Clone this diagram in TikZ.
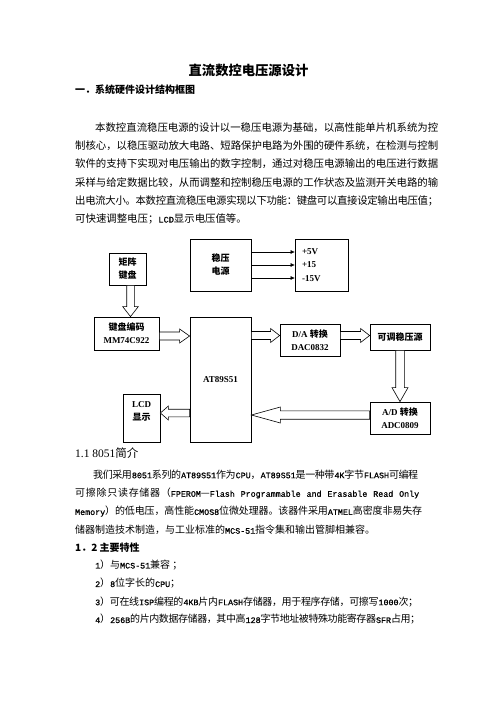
\documentclass[tikz,border=0pt]{standalone}
\usepackage{fontspec}
\setmainfont{Noto Sans CJK SC}
\newfontfamily\tnr{Liberation Serif}
\newfontfamily\enfont[Scale=0.833, FakeBold=1]{Liberation Mono}
\newcommand{\EN}[1]{{\enfont #1}}
\usetikzlibrary{positioning,arrows.meta,calc}

% glue between Chinese characters, so a line can be set to a given width
\XeTeXinterchartokenstate=1
\chardef\hanclass=7
\newcount\hancnt
\hancnt="3000 \loop \XeTeXcharclass\hancnt=\hanclass \advance\hancnt by 1 \ifnum\hancnt<"3040 \repeat
\hancnt="4E00 \loop \XeTeXcharclass\hancnt=\hanclass \advance\hancnt by 1 \ifnum\hancnt<"A000 \repeat
\hancnt="FF00 \loop \XeTeXcharclass\hancnt=\hanclass \advance\hancnt by 1 \ifnum\hancnt<"FF60 \repeat
\XeTeXinterchartoks\hanclass\hanclass={\hskip0pt plus 2pt minus .6pt}
\XeTeXinterchartoks 0 \hanclass={\hskip0pt plus 2pt minus .6pt}
\XeTeXinterchartoks\hanclass 0 ={\hskip0pt plus 2pt minus .6pt}

\newcommand{\jline}[6][txt]{\node[#1, anchor=west] (#2) at (#3,#4) {\makebox[#5pt][s]{#6}};}
\newcommand{\fatarrow}[5]{%
  \coordinate (fa) at ($(#2)!#5pt!(#1)$);
  \draw[hollow] ($(#1)!#3pt!90:(#2)$) -- ($(fa)!#3pt!90:(#2)$) -- ($(fa)!#4pt!90:(#2)$) -- (#2)
    -- ($(fa)!#4pt!-90:(#2)$) -- ($(fa)!#3pt!-90:(#2)$) -- ($(#1)!#3pt!-90:(#2)$) -- cycle;}

\begin{document}
\begin{tikzpicture}[x=1pt, y=-1pt,
  txt/.style={inner sep=0pt, font=\fontsize{10}{12}\selectfont},
  para/.style={inner sep=0pt, font=\fontsize{10.4}{12}\selectfont},
  blk/.style={draw, line width=0.8pt, inner sep=0pt, align=center, font=\bfseries\fontsize{9}{13}\selectfont},
  feed/.style={-{Triangle[length=4pt,width=3.5pt]}, line width=0.6pt},
  hollow/.style={draw, fill=white, line width=0.6pt, line join=miter}
]
  \fill[white] (0,0) rectangle (496,702);
  \useasboundingbox (0,0) rectangle (496,702);

  \node[font=\bfseries\fontsize{13.3}{16}\selectfont] (title) at (248.5,70) {直流数控电压源设计};
  \node[txt, anchor=west, font=\bfseries\fontsize{10}{12}\selectfont] (sec1) at (75,90) {一．系统硬件设计结构框图};

  \jline[para]{b1}{95}{127.5}{343}{本数控直流稳压电源的设计以一稳压电源为基础，以高性能单片机系统为控}
  \jline[para]{b2}{75}{145.8}{363}{制核心，以稳压驱动放大电路、短路保护电路为外围的硬件系统，在检测与控制}
  \jline[para]{b3}{75}{164.1}{363}{软件的支持下实现对电压输出的数字控制，通过对稳压电源输出的电压进行数据}
  \jline[para]{b4}{75}{182.4}{363}{采样与给定数据比较，从而调整和控制稳压电源的工作状态及监测开关电路的输}
  \jline[para]{b5}{75}{200.7}{363}{出电流大小。本数控直流稳压电源实现以下功能：键盘可以直接设定输出电压值；}
  \node[para, anchor=west] (b6) at (75,219) {可快速调整电压；\EN{LCD}显示电压值等。};

  \node[blk, minimum width=37pt, minimum height=32pt] (kbd) at (127.5,269) {矩阵\\键盘};
  \node[blk, minimum width=61pt, minimum height=52pt] (psu) at (220.5,265) {稳压\\电源};
  \node[blk, minimum width=53pt, minimum height=52pt, text width=39pt, align=left,
        font=\fontsize{9}{13.3}\selectfont] (volt) at (321.5,265) {{\tnr\bfseries +5V}\\{\tnr\bfseries +15}\\{\tnr\bfseries -15V}};
  \node[blk, minimum width=65pt, minimum height=33pt] (enc) at (126.5,333.5) {键盘编码\\{\tnr MM74C922}};
  \node[blk, minimum width=61pt, minimum height=125pt, font=\tnr\bfseries\fontsize{9}{13}\selectfont] (mcu) at (220.5,379.5) {AT89S51};
  \node[blk, minimum width=60pt, minimum height=32pt] (dac) at (310,340) {{\tnr D/A} 转换\\{\tnr DAC0832}};
  \node[blk, minimum width=60pt, minimum height=26pt] (reg) at (400,337) {可调稳压源};
  \node[blk, minimum width=60pt, minimum height=32pt] (adc) at (400,418) {{\tnr A/D} 转换\\{\tnr ADC0809}};
  \node[blk, minimum width=37pt, minimum height=48pt] (lcd) at (141.5,418) {{\tnr LCD}\\显示\\\mbox{}};

  \draw[feed] ([yshift=13pt]psu.east) -- ([yshift=13pt]volt.west);
  \draw[feed] (psu.east) -- (volt.west);
  \draw[feed] ([yshift=-13pt]psu.east) -- ([yshift=-13pt]volt.west);

  \coordinate (k1) at ([xshift=3pt]kbd.south);
  \coordinate (k2) at (k1 |- enc.north);
  \fatarrow{k1}{k2}{3.8}{7.8}{10}
  \coordinate (e1) at ([yshift=-2.5pt]enc.east);
  \coordinate (e2) at (e1 -| mcu.west);
  \fatarrow{e1}{e2}{4}{7}{10}
  \coordinate (r0) at ([yshift=1.5pt]reg.west);
  \coordinate (m1) at (mcu.east |- r0);
  \coordinate (d1) at (dac.west |- r0);
  \coordinate (d2) at (dac.east |- r0);
  \fatarrow{m1}{d1}{4}{7}{9}
  \fatarrow{d2}{r0}{4}{7}{9}
  \fatarrow{reg.south}{adc.north}{4.3}{8}{14}
  \coordinate (a1) at ([yshift=3pt]adc.west);
  \coordinate (m2) at (a1 -| mcu.east);
  \fatarrow{a1}{m2}{4.2}{8}{29}
  \coordinate (l1) at ([yshift=5pt]lcd.east);
  \coordinate (m3) at (l1 -| mcu.west);
  \fatarrow{m3}{l1}{3.8}{7}{8}

  \node[txt, anchor=west, font=\fontsize{11.5}{13}\selectfont] (sec11) at (75,453.5) {{\tnr 1.1 8051}简介};
  \jline{c1}{93}{474.5}{325}{我们采用\EN{8051}系列的\EN{AT89S51}作为\EN{CPU}，\EN{AT89S51}是一种带\EN{4K}字节\EN{FLASH}可编程}
  \jline{c2}{75}{493.3}{344}{可擦除只读存储器（\EN{FPEROM}—\EN{Flash Programmable and Erasable Read Only}}
  \jline{c3}{75}{511.5}{347}{\EN{Memory}）的低电压，高性能\EN{CMOS8}位微处理器。该器件采用\EN{ATMEL}高密度非易失存}
  \node[txt, anchor=west] (c4) at (75,530) {储器制造技术制造，与工业标准的\EN{MCS-51}指令集和输出管脚相兼容。};
  \node[txt, anchor=west, font=\bfseries\fontsize{10}{12}\selectfont] (sec12) at (75,547.5) {1．2 主要特性};
  \node[txt, anchor=west] (i1) at (95,565) {\EN{1}）与\EN{MCS-51}兼容 ；};
  \node[txt, anchor=west] (i2) at (95,583.5) {\EN{2}）\EN{8}位字长的\EN{CPU}；};
  \jline{i3}{95}{601.7}{323}{\EN{3}）可在线\EN{ISP}编程的\EN{4KB}片内\EN{FLASH}存储器，用于程序存储，可擦写\EN{1000}次；}
  \jline{i4}{95}{619.5}{325}{\EN{4}）\EN{256B}的片内数据存储器，其中高\EN{128}字节地址被特殊功能寄存器\EN{SFR}占用；}
\end{tikzpicture}
\end{document}
